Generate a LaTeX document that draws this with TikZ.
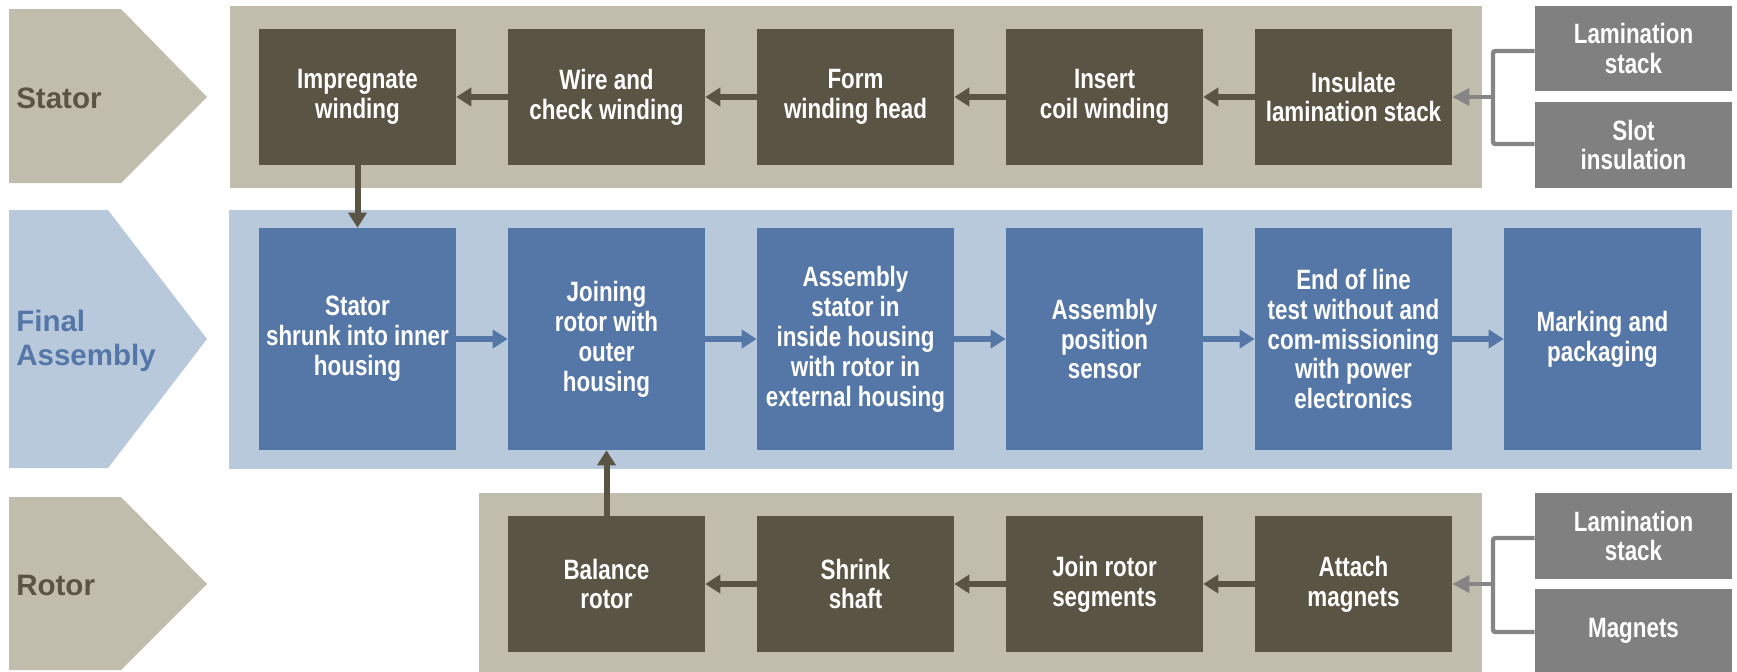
\documentclass[tikz,border=0pt]{standalone}
\usepackage{fontspec}
\setmainfont{Liberation Sans}
\newfontfamily\condensedsans{Liberation Sans}[FakeStretch=0.8]
\usetikzlibrary{arrows.meta}

\definecolor{tanband}{HTML}{C1BDAD}
\definecolor{darkbox}{HTML}{5A5444}
\definecolor{blueband}{HTML}{B9C9DC}
\definecolor{bluebox}{HTML}{5577A8}
\definecolor{inputgray}{HTML}{808080}
\definecolor{feedgray}{HTML}{858585}

\newcommand\stepfont{\condensedsans\bfseries\fontsize{19.9}{21.3}\selectfont}
\newcommand\lanefont{\bfseries\fontsize{21}{24}\selectfont}

\tikzset{
  stepbox/.style={fill=darkbox, text=white, inner sep=0pt, align=center,
    minimum width=49.25mm, minimum height=34mm, font=\stepfont},
  assybox/.style={stepbox, fill=bluebox, minimum height=55.5mm},
  inputbox/.style={stepbox, fill=inputgray},
  lanelabel/.style={anchor=west, inner sep=0pt, align=left, font=\lanefont},
  darkflow/.style={draw=darkbox, line width=1.5mm,
    -{Triangle[length=3.75mm,width=4.5mm]}},
  blueflow/.style={draw=bluebox, line width=1.5mm,
    -{Triangle[length=3.75mm,width=4.5mm]}},
  feedline/.style={draw=feedgray, line width=1.1mm, rounded corners=0.6mm},
  feedflow/.style={draw=feedgray, line width=1.1mm,
    -{Triangle[length=4.25mm,width=4.2mm]}}
}

\begin{document}
\begin{tikzpicture}[x=0.25mm,y=-0.25mm]
\useasboundingbox (0,0) rectangle (1737,672);

% lane chevrons
\fill[tanband] (9,9) -- (121,9) -- (207,97) -- (121,183) -- (9,183) -- cycle;
\fill[blueband] (9,210) -- (108,210) -- (207,339) -- (108,468) -- (9,468) -- cycle;
\fill[tanband] (9,497) -- (121,497) -- (207,584) -- (121,670) -- (9,670) -- cycle;

\node[lanelabel, text=darkbox] (lstator) at (16,98) {Stator};
\node[lanelabel, text=bluebox] (lfinal) at (16,341) {Final\\Assembly};
\node[lanelabel, text=darkbox] (lrotor) at (16,585) {Rotor};

% lane backgrounds
\fill[tanband] (230,6) rectangle (1482,188);
\fill[blueband] (229,210) rectangle (1732,469);
\fill[tanband] (479,493) rectangle (1482,672);

% stator steps
\node[stepbox] (impregnate) at (357.5,97) {Impregnate\\winding};
\node[stepbox] (wire) at (606.5,97) {Wire and\\check winding};
\node[stepbox] (formhead) at (855.5,97) {Form\\winding head};
\node[stepbox] (insert) at (1104.5,97) {Insert\\coil winding};
\node[stepbox] (insulate) at (1353.5,97) {Insulate\\lamination stack};

% stator inputs
\node[inputbox, minimum height=21.25mm] (lamtop) at (1633.5,48.5) {Lamination\\stack};
\node[inputbox, minimum height=21.5mm] (slot) at (1633.5,145) {Slot\\insulation};

% final assembly steps
\node[assybox] (fa1) at (357.5,339) {Stator\\shrunk into inner\\housing};
\node[assybox] (fa2) at (606.5,339) {Joining\\rotor with\\outer\\housing};
\node[assybox] (fa3) at (855.5,339) {Assembly\\stator in\\inside housing\\with rotor in\\external housing};
\node[assybox] (fa4) at (1104.5,339) {Assembly\\position\\sensor};
\node[assybox] (fa5) at (1353.5,339) {End of line\\test without and\\com-missioning\\with power\\electronics};
\node[assybox] (fa6) at (1602.5,339) {Marking and\\packaging};

% rotor steps
\node[stepbox] (balance) at (606.5,584) {Balance\\rotor};
\node[stepbox] (shrink) at (855.5,584) {Shrink\\shaft};
\node[stepbox] (joinseg) at (1104.5,584) {Join rotor\\segments};
\node[stepbox] (attach) at (1353.5,584) {Attach\\magnets};

% rotor inputs
\node[inputbox, minimum height=21.5mm] (lambot) at (1633.5,536) {Lamination\\stack};
\node[inputbox, minimum height=20.75mm] (magnets) at (1633.5,630.5) {Magnets};

% stator flow
\draw[darkflow] (insulate.west) -- (insert.east);
\draw[darkflow] (insert.west) -- (formhead.east);
\draw[darkflow] (formhead.west) -- (wire.east);
\draw[darkflow] (wire.west) -- (impregnate.east);
\draw[darkflow] (impregnate.south) -- (fa1.north);

% final assembly flow
\draw[blueflow] (fa1.east) -- (fa2.west);
\draw[blueflow] (fa2.east) -- (fa3.west);
\draw[blueflow] (fa3.east) -- (fa4.west);
\draw[blueflow] (fa4.east) -- (fa5.west);
\draw[blueflow] (fa5.east) -- (fa6.west);

% rotor flow
\draw[darkflow] (attach.west) -- (joinseg.east);
\draw[darkflow] (joinseg.west) -- (shrink.east);
\draw[darkflow] (shrink.west) -- (balance.east);
\draw[darkflow] (balance.north) -- (fa2.south);

% input feeds
\coordinate (jtop) at (1493,97);
\draw[feedline] (lamtop.west |- 0,51) -| (jtop) |- (slot.west |- 0,144);
\draw[feedflow] (jtop) -- (insulate.east);
\coordinate (jbot) at (1493,584);
\draw[feedline] (lambot.west |- 0,538) -| (jbot) |- (magnets.west |- 0,632);
\draw[feedflow] (jbot) -- (attach.east);
\end{tikzpicture}
\end{document}
